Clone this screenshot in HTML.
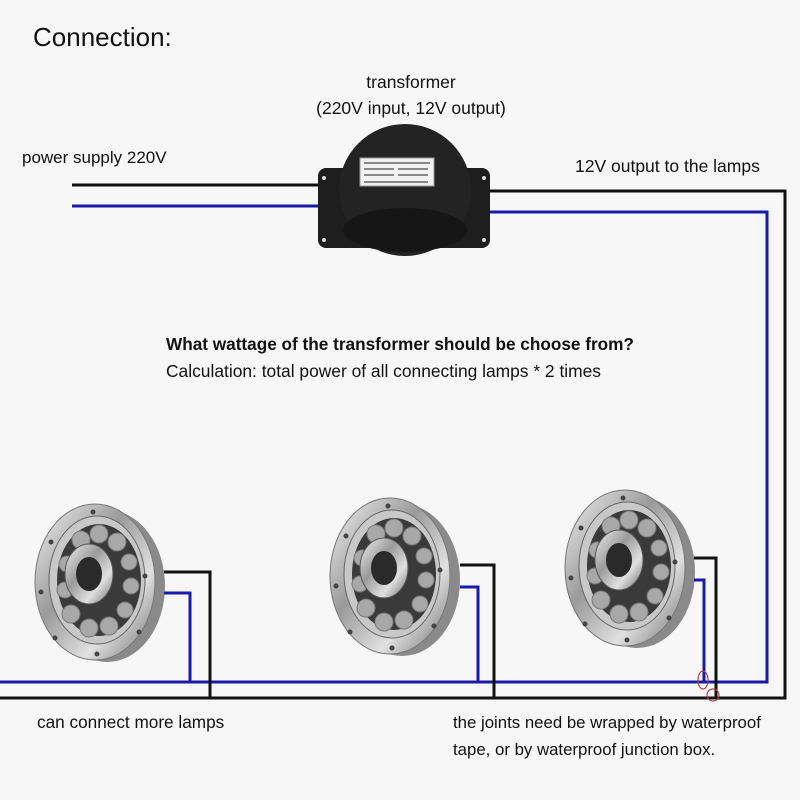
<!DOCTYPE html>
<html><head><style>body{margin:0;background:#f7f7f7}svg{display:block}</style></head><body>
<svg width="800" height="800" viewBox="0 0 800 800" xmlns="http://www.w3.org/2000/svg" font-family="Liberation Sans, sans-serif">
<defs>
<linearGradient id="steel" x1="0" y1="0" x2="1" y2="1">
<stop offset="0" stop-color="#f2f2f2"/><stop offset="0.4" stop-color="#9a9a9a"/><stop offset="0.7" stop-color="#e0e0e0"/><stop offset="1" stop-color="#6a6a6a"/></linearGradient>
<g id="lamp">
<ellipse cx="12" cy="4" rx="58" ry="76" fill="#8a8a8a"/>
<ellipse cx="0" cy="0" rx="60" ry="78" fill="url(#steel)" stroke="#777" stroke-width="1"/>
<ellipse cx="2" cy="-2" rx="48" ry="64" fill="#c8c8c8" stroke="#666"/>
<ellipse cx="4" cy="-2" rx="42" ry="56" fill="#3a3a3a"/>
<g fill="#a8a8a8" stroke="#777">
<circle cx="-14" cy="-42" r="9"/><circle cx="4" cy="-48" r="9"/><circle cx="22" cy="-40" r="9"/><circle cx="34" cy="-20" r="8"/><circle cx="36" cy="4" r="8"/><circle cx="30" cy="28" r="8"/><circle cx="14" cy="44" r="9"/><circle cx="-6" cy="46" r="9"/><circle cx="-24" cy="32" r="9"/><circle cx="-30" cy="8" r="8"/><circle cx="-28" cy="-18" r="8"/></g>
<ellipse cx="-6" cy="-8" rx="24" ry="30" fill="url(#steel)" stroke="#555"/>
<ellipse cx="-6" cy="-8" rx="13" ry="17" fill="#2a2a2a"/>
<g fill="#444"><circle cx="-2" cy="-70" r="2.5"/><circle cx="-44" cy="-40" r="2.5"/><circle cx="-54" cy="10" r="2.5"/><circle cx="-40" cy="56" r="2.5"/><circle cx="2" cy="72" r="2.5"/><circle cx="44" cy="50" r="2.5"/><circle cx="50" cy="-6" r="2.5"/></g>
</g>
</defs>
<rect width="800" height="800" fill="#f7f7f7"/>
<text x="33" y="46" font-size="26" fill="#111">Connection:</text>
<text x="411" y="88" font-size="17.5" text-anchor="middle" fill="#111">transformer</text>
<text x="411" y="114" font-size="17.5" text-anchor="middle" fill="#111">(220V input, 12V output)</text>
<text x="22" y="163" font-size="17" fill="#111">power supply 220V</text>
<text x="575" y="172" font-size="17.5" fill="#111">12V output to the lamps</text>
<text x="166" y="350" font-size="17.2" font-weight="bold" fill="#111">What wattage of the transformer should be choose from?</text>
<text x="166" y="377" font-size="17.4" fill="#111">Calculation: total power of all connecting lamps * 2 times</text>
<text x="37" y="728" font-size="17.2" fill="#111">can connect more lamps</text>
<text x="453" y="728" font-size="16.8" fill="#111">the joints need be wrapped by waterproof</text>
<text x="453" y="755" font-size="16.8" fill="#111">tape, or by waterproof junction box.</text>
<g fill="none" stroke-width="3">
<polyline points="72,185 322,185" stroke="#111"/>
<polyline points="72,206 322,206" stroke="#1a1aa8"/>
<polyline points="488,191 785,191 785,698 0,698" stroke="#111"/>
<polyline points="488,212 767,212 767,682 0,682" stroke="#1a1aa8"/>
</g>
<rect x="318" y="168" width="172" height="80" rx="8" fill="#1e1e1e"/>
<circle cx="405" cy="190" r="66" fill="#232323"/>
<ellipse cx="405" cy="230" rx="62" ry="22" fill="#161616"/>
<rect x="360" y="158" width="74" height="28" fill="#f2f2f2" stroke="#999"/>
<g fill="#888"><rect x="364" y="162" width="66" height="2"/><rect x="364" y="168" width="30" height="2"/><rect x="398" y="168" width="30" height="2"/><rect x="364" y="174" width="30" height="2"/><rect x="398" y="174" width="30" height="2"/><rect x="364" y="181" width="64" height="2"/></g>
<g fill="#ddd"><circle cx="324" cy="178" r="2"/><circle cx="484" cy="178" r="2"/><circle cx="324" cy="240" r="2"/><circle cx="484" cy="240" r="2"/></g>
<use href="#lamp" x="95" y="582"/>
<use href="#lamp" x="390" y="576"/>
<use href="#lamp" x="625" y="568"/>
<g fill="none" stroke-width="3">
<polyline points="164,572 210,572 210,698" stroke="#111"/>
<polyline points="164,593 190,593 190,682" stroke="#1a1aa8"/>
<polyline points="460,565 494,565 494,698" stroke="#111"/>
<polyline points="460,587 478,587 478,682" stroke="#1a1aa8"/>
<polyline points="694,558 716,558 716,698" stroke="#111"/>
<polyline points="694,580 704,580 704,682" stroke="#1a1aa8"/>
</g>
<ellipse cx="703" cy="680" rx="5" ry="9" fill="none" stroke="#b04040" stroke-width="1.2"/>
<circle cx="713" cy="695" r="6" fill="none" stroke="#b04040" stroke-width="1.2"/>
</svg>
</body></html>
